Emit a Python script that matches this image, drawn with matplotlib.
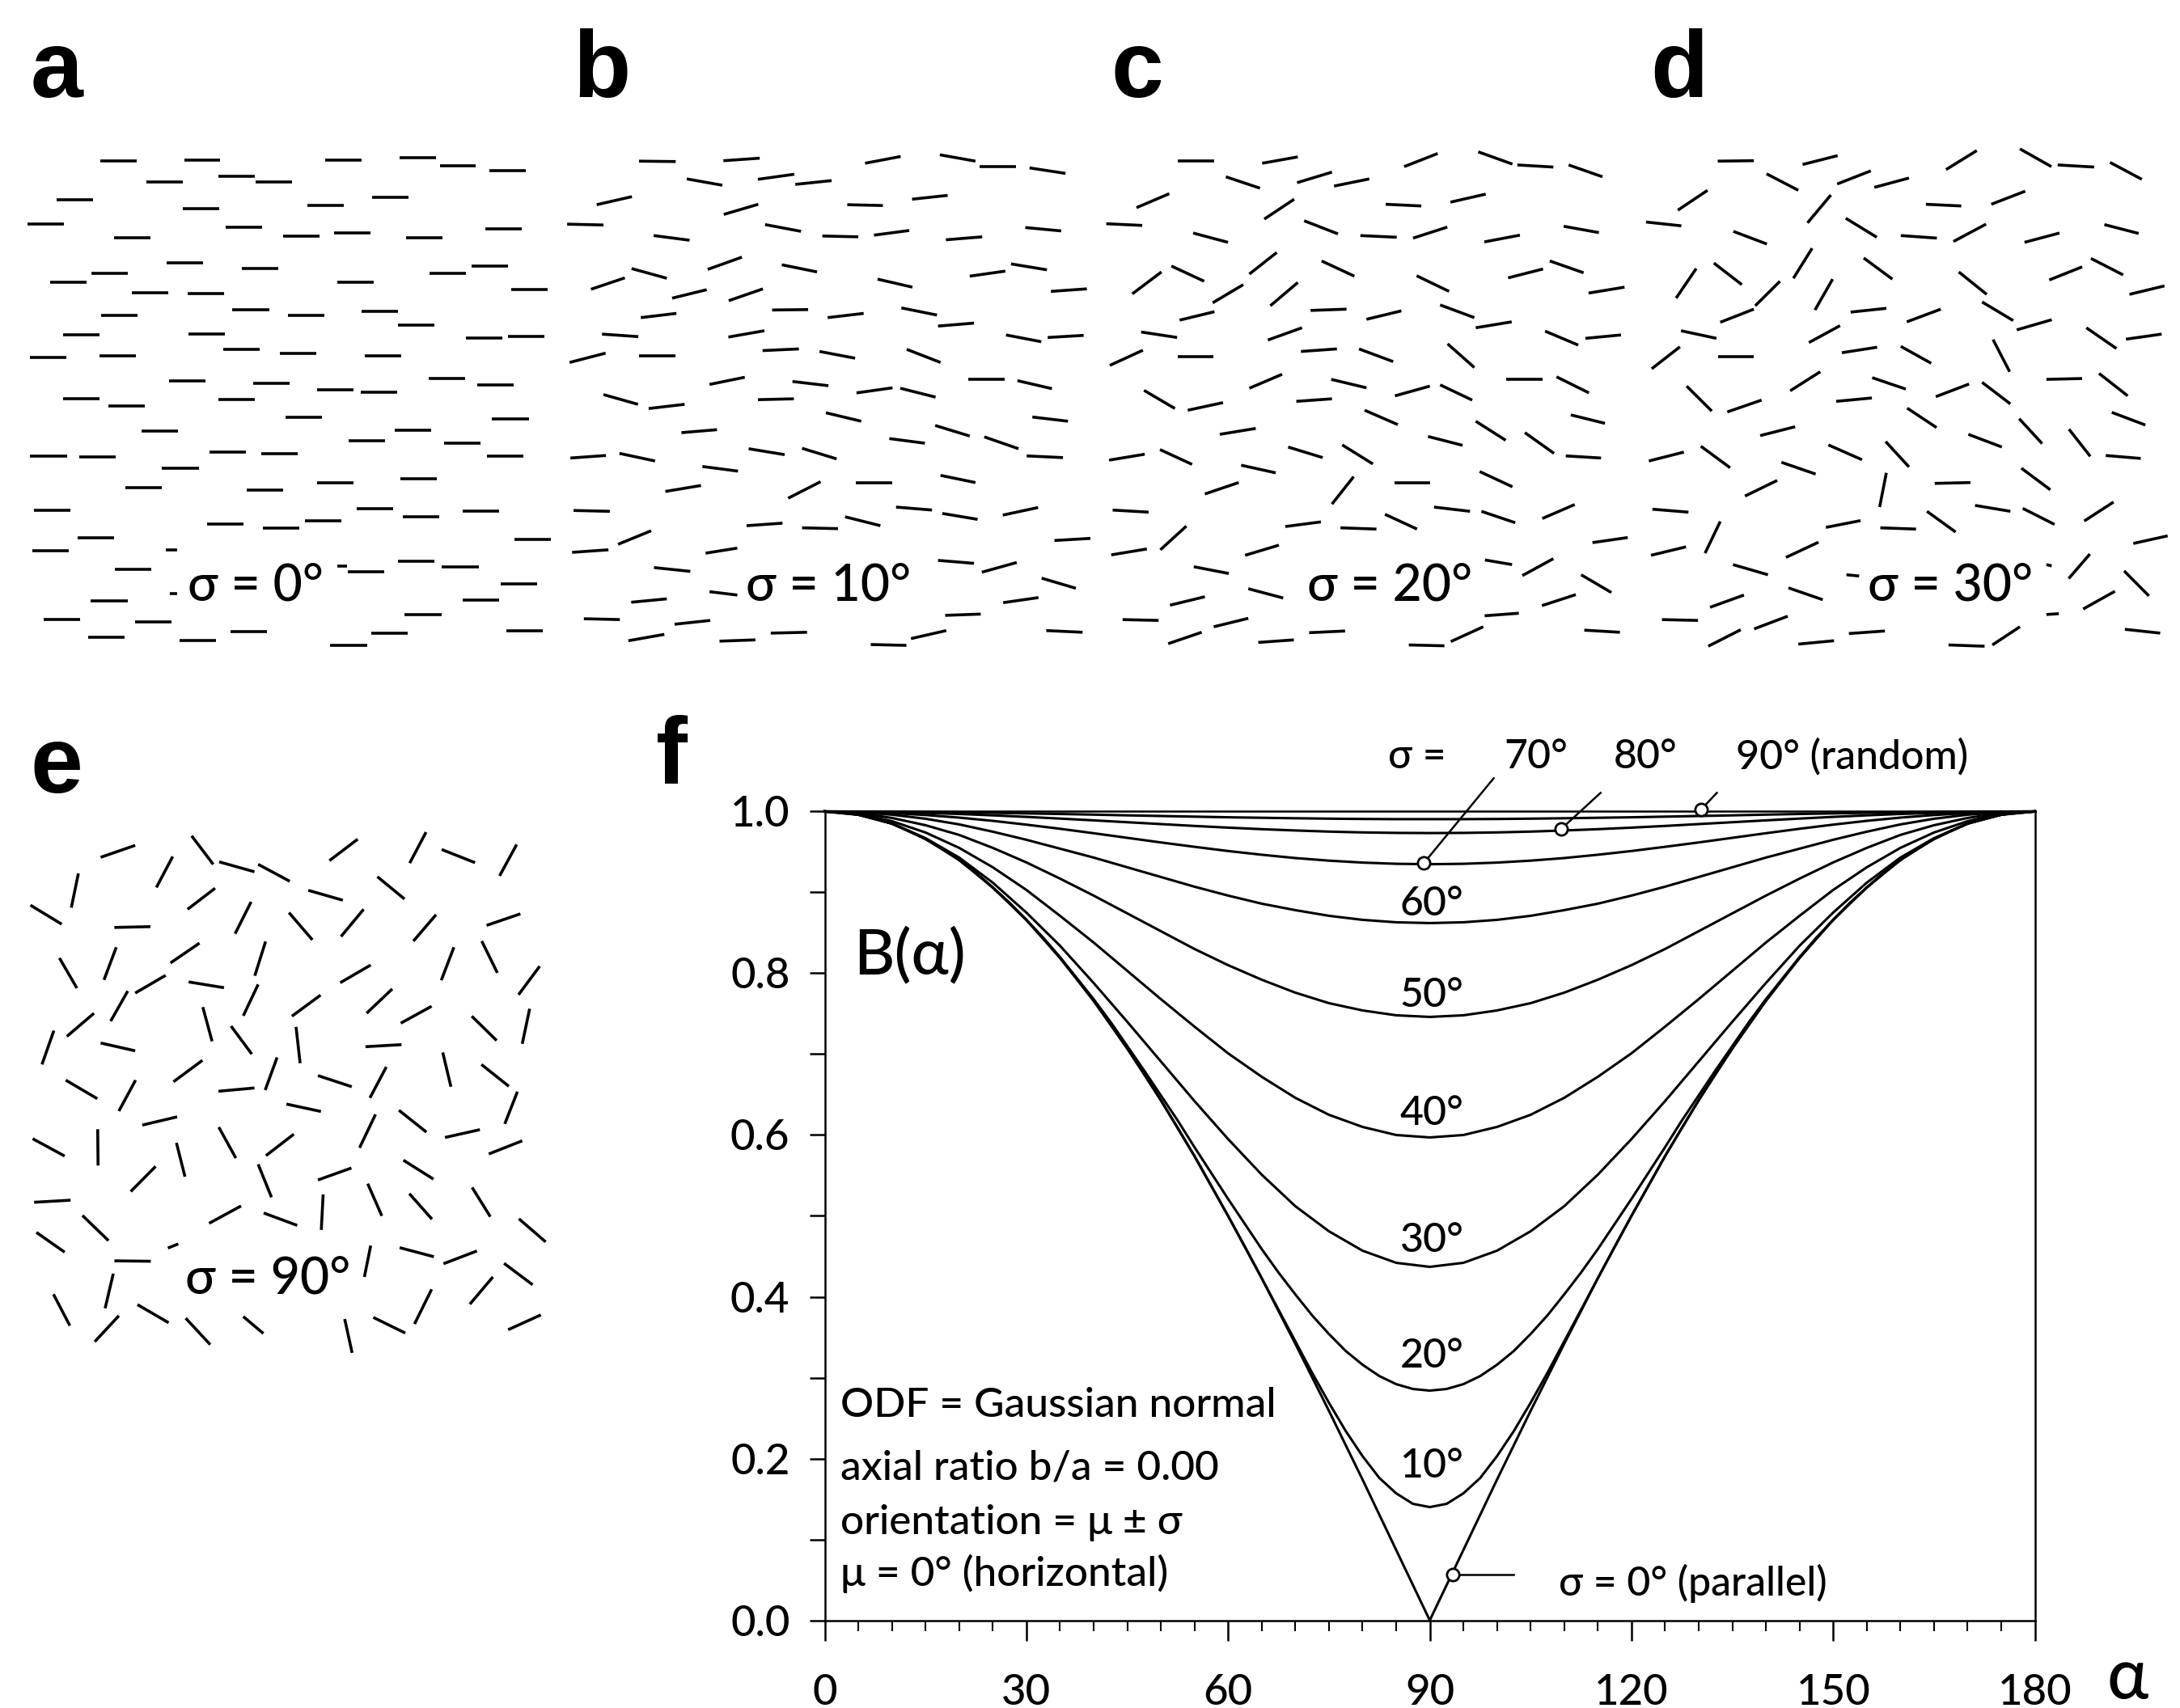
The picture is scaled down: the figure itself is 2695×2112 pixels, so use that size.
import numpy as np
import matplotlib
matplotlib.use("Agg")
import matplotlib.pyplot as plt
from matplotlib.collections import LineCollection
from matplotlib.ticker import MultipleLocator, FormatStrFormatter

FONT = ["Lato", "Open Sans", "DejaVu Sans"]
plt.rcParams["font.family"] = FONT
plt.rcParams["font.weight"] = 500

W, H = 2695, 2112

# ---- panels a-e: visible needle segments (x1, y1, x2, y2), panel units 0..1568
SEG_A = [
    (277, 381, 378, 381), (510, 378, 610, 378), (901, 378, 1002, 378), (1106, 373, 1208, 373),
    (1218, 392, 1318, 392), (1356, 403, 1457, 403), (406, 431, 507, 431), (605, 417, 706, 417),
    (708, 431, 809, 431), (157, 472, 258, 472), (507, 494, 608, 494), (851, 485, 952, 485),
    (1031, 466, 1132, 466), (76, 530, 177, 530), (316, 563, 417, 563), (624, 537, 725, 537),
    (783, 558, 884, 558), (925, 550, 1026, 550), (1125, 563, 1226, 563), (1344, 542, 1445, 542),
    (462, 622, 563, 622), (670, 635, 771, 635), (254, 647, 355, 647), (139, 668, 240, 668),
    (1189, 647, 1290, 647), (1305, 629, 1406, 629), (933, 668, 1034, 668), (365, 693, 466, 693),
    (520, 695, 621, 695), (1415, 685, 1516, 685), (280, 746, 381, 746), (644, 732, 745, 732),
    (797, 745, 898, 745), (1001, 736, 1102, 736), (1102, 768, 1204, 768), (174, 791, 275, 791),
    (522, 789, 623, 789), (1290, 799, 1391, 799), (1406, 795, 1507, 795), (83, 846, 184, 846),
    (275, 842, 376, 842), (618, 827, 719, 827), (775, 836, 876, 836), (1011, 841, 1112, 841),
    (469, 901, 570, 901), (701, 907, 802, 907), (1187, 895, 1288, 895), (1321, 910, 1422, 910),
    (877, 922, 978, 922), (998, 928, 1099, 928), (175, 942, 276, 942), (604, 944, 705, 944),
    (301, 960, 402, 960), (791, 987, 892, 987), (1363, 990, 1464, 990), (392, 1019, 493, 1019),
    (1093, 1018, 1194, 1018), (966, 1042, 1067, 1042), (1229, 1047, 1330, 1047),
    (84, 1079, 185, 1079), (220, 1081, 321, 1081), (580, 1068, 681, 1068), (724, 1073, 825, 1073),
    (1349, 1079, 1450, 1079), (449, 1108, 550, 1108), (347, 1154, 448, 1154),
    (683, 1159, 784, 1159), (877, 1142, 978, 1142), (1109, 1132, 1210, 1132),
    (94, 1207, 195, 1207), (987, 1202, 1088, 1202), (1115, 1221, 1216, 1221),
    (1282, 1208, 1383, 1208), (573, 1239, 674, 1239), (727, 1248, 828, 1248),
    (845, 1232, 946, 1232), (214, 1271, 315, 1271), (1425, 1275, 1526, 1275),
    (89, 1303, 190, 1303), (459, 1300, 490, 1300), (318, 1347, 419, 1347), (935, 1338, 960, 1338),
    (964, 1351, 1065, 1351), (1103, 1327, 1204, 1327), (1224, 1340, 1325, 1340),
    (1386, 1380, 1487, 1380), (252, 1420, 353, 1420), (470, 1404, 490, 1404),
    (1282, 1418, 1383, 1418), (121, 1464, 222, 1464), (373, 1471, 474, 1471),
    (1121, 1453, 1222, 1453), (245, 1506, 346, 1506), (498, 1515, 599, 1515),
    (639, 1493, 740, 1493), (1028, 1498, 1129, 1498), (915, 1525, 1016, 1525),
    (1403, 1491, 1503, 1491),
]

SEG_B = [
    (250, 381, 353, 382), (487, 380, 589, 374), (885, 386, 985, 370), (1095, 366, 1195, 381),
    (1207, 393, 1308, 393), (1347, 397, 1448, 410), (384, 423, 484, 438), (584, 424, 686, 412),
    (689, 436, 791, 427), (131, 484, 230, 465), (488, 507, 585, 483), (835, 484, 935, 486),
    (1017, 471, 1117, 462), (48, 530, 150, 532), (291, 557, 392, 568), (604, 531, 705, 547),
    (765, 558, 866, 560), (910, 556, 1009, 545), (1112, 567, 1214, 560), (1335, 538, 1436, 546),
    (443, 637, 539, 608), (651, 626, 750, 643), (229, 635, 328, 658), (115, 684, 210, 657),
    (343, 705, 440, 685), (502, 711, 598, 683), (920, 660, 1018, 679), (1179, 653, 1279, 641),
    (1295, 624, 1396, 638), (1407, 689, 1508, 683), (255, 751, 355, 741), (624, 733, 725, 732),
    (780, 751, 881, 741), (987, 728, 1087, 745), (1090, 771, 1191, 764), (146, 790, 248, 796),
    (501, 797, 602, 782), (1281, 792, 1380, 808), (1398, 798, 1499, 793), (55, 857, 156, 835),
    (250, 842, 352, 842), (597, 829, 699, 825), (757, 831, 857, 847), (1002, 826, 1097, 857),
    (448, 909, 547, 892), (681, 902, 782, 912), (1175, 896, 1276, 896), (1313, 900, 1410, 919),
    (861, 929, 962, 917), (984, 918, 1083, 939), (150, 933, 247, 956), (584, 945, 685, 943),
    (277, 966, 378, 956), (775, 976, 874, 996), (1355, 986, 1455, 996), (369, 1023, 469, 1016),
    (1082, 1006, 1179, 1031), (953, 1037, 1053, 1048), (1220, 1033, 1316, 1061),
    (57, 1083, 157, 1077), (195, 1072, 295, 1090), (558, 1061, 659, 1075), (708, 1060, 805, 1085),
    (1339, 1078, 1441, 1082), (428, 1103, 528, 1114), (324, 1162, 424, 1148),
    (669, 1178, 760, 1139), (860, 1142, 962, 1142), (1097, 1124, 1195, 1141),
    (66, 1207, 168, 1209), (972, 1199, 1073, 1206), (1102, 1214, 1201, 1228),
    (1272, 1218, 1371, 1200), (552, 1243, 653, 1237), (708, 1248, 809, 1250),
    (829, 1222, 928, 1243), (191, 1287, 284, 1255), (1417, 1278, 1518, 1273),
    (62, 1306, 164, 1300), (437, 1308, 526, 1296), (292, 1342, 394, 1351),
    (1090, 1325, 1191, 1332), (1213, 1353, 1311, 1330), (1381, 1367, 1477, 1391),
    (228, 1424, 328, 1416), (448, 1399, 526, 1407), (1273, 1425, 1372, 1413),
    (95, 1463, 196, 1465), (350, 1476, 450, 1467), (1110, 1455, 1210, 1452),
    (220, 1515, 321, 1500), (476, 1516, 577, 1513), (620, 1497, 722, 1495),
    (1014, 1510, 1113, 1491), (901, 1524, 1001, 1526), (1394, 1491, 1496, 1495),
]

SEG_C = [
    (242, 381, 343, 381), (478, 386, 578, 371), (877, 394, 971, 363), (1085, 359, 1181, 388),
    (1195, 390, 1296, 395), (1339, 390, 1434, 418), (376, 418, 472, 445), (576, 432, 674, 407),
    (680, 440, 779, 423), (125, 491, 217, 458), (484, 518, 568, 471), (825, 483, 925, 487),
    (1007, 478, 1106, 459), (40, 529, 141, 533), (284, 551, 382, 573), (596, 522, 691, 553),
    (754, 557, 856, 561), (902, 563, 998, 537), (1102, 572, 1202, 556), (1325, 535, 1424, 550),
    (442, 648, 519, 597), (645, 617, 737, 653), (223, 629, 315, 665), (113, 695, 195, 643),
    (339, 716, 425, 673), (501, 723, 578, 668), (912, 652, 1003, 689), (1169, 657, 1267, 636),
    (1286, 617, 1381, 645), (1395, 693, 1496, 679), (246, 757, 344, 737), (614, 734, 715, 731),
    (771, 755, 869, 735), (978, 721, 1074, 751), (1078, 775, 1179, 761), (138, 785, 239, 798),
    (494, 804, 590, 775), (1273, 783, 1366, 816), (1386, 800, 1486, 792), (50, 864, 143, 828),
    (240, 843, 342, 843), (587, 831, 688, 825), (750, 825, 846, 855), (999, 813, 1074, 869),
    (442, 918, 534, 885), (672, 897, 771, 917), (1164, 896, 1265, 896), (1305, 891, 1396, 929),
    (851, 936, 949, 913), (978, 910, 1068, 946), (146, 923, 233, 966), (574, 949, 674, 943),
    (269, 970, 368, 952), (766, 970, 859, 1004), (1345, 981, 1441, 1001), (359, 1027, 460, 1013),
    (1078, 996, 1162, 1041), (944, 1032, 1041, 1053), (1216, 1023, 1298, 1072),
    (48, 1088, 148, 1074), (191, 1063, 281, 1098), (551, 1057, 648, 1082), (703, 1052, 789, 1097),
    (1331, 1078, 1430, 1083), (419, 1100, 516, 1118), (317, 1168, 412, 1141),
    (674, 1192, 735, 1127), (850, 1142, 951, 1142), (1089, 1115, 1181, 1151),
    (58, 1206, 159, 1211), (961, 1199, 1062, 1209), (1094, 1209, 1189, 1236),
    (1265, 1226, 1356, 1193), (543, 1245, 643, 1234), (698, 1248, 799, 1251),
    (823, 1216, 913, 1251), (192, 1300, 265, 1244), (1406, 1283, 1505, 1271),
    (54, 1312, 154, 1298), (430, 1313, 525, 1289), (286, 1340, 384, 1356),
    (1104, 1324, 1180, 1335), (1209, 1361, 1296, 1321), (1374, 1359, 1459, 1401),
    (219, 1431, 317, 1411), (439, 1392, 537, 1414), (1264, 1432, 1359, 1406),
    (86, 1465, 187, 1467), (342, 1482, 439, 1462), (1103, 1456, 1199, 1450),
    (214, 1522, 308, 1495), (467, 1519, 567, 1513), (610, 1496, 711, 1492),
    (1008, 1517, 1099, 1482), (890, 1525, 990, 1527), (1383, 1490, 1483, 1495),
]

SEG_D = [
    (260, 381, 362, 380), (500, 389, 599, 368), (906, 401, 993, 356), (1115, 352, 1204, 394),
    (1222, 390, 1325, 395), (1370, 384, 1460, 424), (398, 411, 488, 450), (598, 435, 693, 404),
    (703, 443, 801, 421), (147, 497, 231, 450), (514, 527, 580, 461), (849, 483, 949, 487),
    (1034, 483, 1130, 452), (57, 525, 157, 534), (304, 547, 399, 577), (622, 516, 710, 561),
    (778, 557, 880, 563), (927, 571, 1019, 530), (1128, 573, 1227, 551), (1354, 531, 1451, 552),
    (474, 658, 527, 587), (673, 610, 754, 660), (249, 622, 328, 673), (142, 705, 199, 635),
    (366, 723, 436, 665), (535, 733, 585, 660), (942, 643, 1021, 696), (1198, 662, 1291, 631),
    (1316, 611, 1407, 650), (1425, 696, 1524, 676), (267, 762, 362, 731), (636, 738, 737, 729),
    (795, 761, 891, 731), (1008, 714, 1096, 758), (1106, 780, 1205, 756), (156, 782, 256, 800),
    (518, 810, 606, 770), (1303, 775, 1388, 824), (1415, 802, 1516, 790), (73, 872, 153, 820),
    (260, 843, 362, 843), (611, 834, 711, 821), (778, 819, 864, 859), (1039, 803, 1086, 879),
    (465, 924, 550, 879), (697, 893, 792, 920), (1190, 897, 1291, 895), (1339, 883, 1420, 936),
    (877, 938, 971, 908), (1008, 904, 1088, 955), (172, 913, 243, 972), (595, 949, 696, 941),
    (287, 974, 384, 946), (796, 965, 879, 1011), (1375, 975, 1470, 1005), (380, 1030, 479, 1009),
    (1113, 990, 1178, 1049), (969, 1027, 1064, 1057), (1254, 1015, 1314, 1079),
    (65, 1090, 164, 1069), (212, 1055, 295, 1106), (573, 1052, 668, 1087), (735, 1044, 801, 1104),
    (1358, 1077, 1457, 1084), (440, 1093, 537, 1121), (337, 1173, 428, 1136),
    (718, 1199, 737, 1118), (874, 1143, 975, 1141), (1119, 1107, 1201, 1158),
    (75, 1204, 177, 1211), (988, 1195, 1088, 1209), (1123, 1202, 1213, 1240),
    (1297, 1232, 1380, 1187), (566, 1247, 664, 1231), (720, 1248, 821, 1251),
    (852, 1209, 933, 1258), (224, 1308, 267, 1233), (1436, 1285, 1533, 1267),
    (71, 1313, 170, 1293), (453, 1318, 545, 1282), (303, 1335, 402, 1359),
    (624, 1359, 660, 1362), (1190, 1335, 1205, 1338), (1253, 1368, 1313, 1310),
    (1410, 1350, 1480, 1409), (238, 1436, 334, 1407), (460, 1390, 557, 1418),
    (1294, 1440, 1384, 1398), (102, 1465, 204, 1467), (363, 1487, 458, 1457),
    (1190, 1453, 1225, 1451), (233, 1528, 325, 1489), (488, 1523, 589, 1515),
    (631, 1498, 733, 1492), (1037, 1525, 1115, 1482), (913, 1525, 1015, 1528),
    (1412, 1488, 1512, 1497),
]

SEG_E = [
    (271, 353, 364, 324), (516, 301, 574, 370), (590, 364, 685, 388), (695, 370, 780, 411),
    (887, 361, 963, 309), (1103, 367, 1147, 292), (1189, 334, 1279, 366), (1345, 398, 1391, 322),
    (192, 475, 211, 392), (421, 426, 465, 351), (830, 433, 923, 457), (1016, 400, 1089, 454),
    (82, 469, 166, 515), (505, 479, 579, 428), (308, 523, 405, 521), (633, 538, 676, 461),
    (778, 487, 841, 553), (918, 545, 979, 479), (1113, 556, 1174, 492), (1310, 518, 1401, 490),
    (160, 597, 207, 670), (280, 650, 313, 571), (459, 609, 537, 561), (686, 640, 715, 557),
    (364, 682, 446, 639), (508, 655, 603, 669), (916, 657, 998, 614), (1188, 651, 1222, 571),
    (1297, 556, 1339, 633), (1396, 686, 1453, 617), (298, 750, 344, 677), (655, 737, 695, 661),
    (786, 738, 863, 687), (987, 731, 1056, 672), (1079, 755, 1162, 714), (1270, 738, 1337, 797),
    (1406, 805, 1426, 720), (180, 787, 253, 731), (113, 855, 145, 773), (546, 716, 571, 799),
    (622, 762, 678, 830), (797, 764, 808, 852), (271, 803, 364, 822), (984, 812, 1081, 807),
    (1192, 826, 1214, 909), (1296, 855, 1370, 908), (177, 893, 262, 938), (467, 897, 545, 845),
    (714, 917, 746, 838), (856, 882, 947, 909), (320, 968, 365, 893), (588, 920, 685, 912),
    (996, 936, 1040, 861), (771, 951, 864, 969), (1359, 999, 1393, 921), (383, 1002, 477, 982),
    (1074, 966, 1148, 1019), (1198, 1032, 1292, 1013), (88, 1035, 174, 1077),
    (263, 1012, 264, 1100), (475, 1045, 498, 1127), (589, 1007, 635, 1082), (716, 1076, 791, 1024),
    (968, 1057, 1011, 976), (1316, 1072, 1406, 1040), (352, 1163, 419, 1102),
    (695, 1097, 731, 1177), (856, 1135, 946, 1106), (1086, 1087, 1167, 1133),
    (92, 1189, 190, 1184), (870, 1170, 865, 1256), (990, 1144, 1028, 1222),
    (1102, 1168, 1163, 1230), (1271, 1153, 1320, 1224), (1397, 1229, 1469, 1285),
    (222, 1221, 292, 1282), (563, 1240, 649, 1198), (710, 1215, 800, 1245),
    (98, 1262, 174, 1310), (452, 1300, 480, 1290), (308, 1331, 406, 1332),
    (1076, 1299, 1168, 1321), (1194, 1338, 1284, 1307), (998, 1294, 981, 1370),
    (1357, 1337, 1434, 1389), (283, 1446, 305, 1362), (144, 1412, 188, 1488),
    (370, 1437, 454, 1481), (500, 1470, 566, 1534), (255, 1527, 320, 1464),
    (655, 1466, 709, 1507), (928, 1472, 948, 1554), (1005, 1468, 1091, 1506),
    (1116, 1484, 1162, 1400), (1265, 1436, 1327, 1370), (1368, 1498, 1456, 1462),
]

# (letter, crop box in px [x, y, w, h], segments, sigma label, label centre, letter pos px)
PANELS = [
    ("a", (0, 0, 700, 820), SEG_A, "σ = 0°", (707, 1385), (38, 120)),
    ("b", (680, 0, 690, 820), SEG_B, "σ = 10°", (782, 1385), (708, 120)),
    ("c", (1350, 0, 690, 820), SEG_C, "σ = 20°", (837, 1385), (1374, 120)),
    ("d", (2010, 0, 685, 820), SEG_D, "σ = 30°", (917, 1385), (2040, 120)),
    ("e", (0, 880, 720, 800), SEG_E, "σ = 90°", (722, 1375), (38, 980)),
]

# ---- panel f: B(alpha), left half (the curves are symmetric about 90)
ALPHA = np.arange(0, 91, 5)
ALPHA_FINE = np.arange(0, 90.1, 2.5)

B_S0 = [1.000, 0.996, 0.985, 0.966, 0.940, 0.906, 0.866, 0.819, 0.766, 0.707,
        0.643, 0.574, 0.500, 0.423, 0.342, 0.259, 0.174, 0.087, 0.000]
B_S10 = [1.000, 0.999, 0.996, 0.991, 0.985, 0.976, 0.966, 0.954, 0.940, 0.924,
         0.906, 0.887, 0.866, 0.843, 0.819, 0.793, 0.766, 0.737, 0.707, 0.676,
         0.643, 0.609, 0.574, 0.537, 0.500, 0.462, 0.423, 0.384, 0.345, 0.306,
         0.269, 0.234, 0.203, 0.176, 0.157, 0.144, 0.140]
B_S20 = [1.000, 0.999, 0.996, 0.991, 0.985, 0.976, 0.966, 0.954, 0.940, 0.924,
         0.906, 0.887, 0.866, 0.844, 0.820, 0.794, 0.768, 0.740, 0.710, 0.680,
         0.649, 0.618, 0.585, 0.553, 0.521, 0.490, 0.459, 0.430, 0.403, 0.377,
         0.354, 0.333, 0.316, 0.302, 0.292, 0.286, 0.284]
B_S30 = [1.000, 0.996, 0.985, 0.967, 0.943, 0.912, 0.875, 0.834, 0.788, 0.740,
         0.691, 0.642, 0.595, 0.551, 0.512, 0.481, 0.457, 0.442, 0.437]
B_S40 = [1.000, 0.997, 0.988, 0.974, 0.955, 0.931, 0.903, 0.871, 0.838, 0.803,
         0.768, 0.734, 0.701, 0.672, 0.646, 0.625, 0.610, 0.600, 0.597]
B_S50 = [1.000, 0.998, 0.992, 0.983, 0.971, 0.955, 0.937, 0.917, 0.896, 0.874,
         0.852, 0.830, 0.810, 0.792, 0.776, 0.763, 0.754, 0.748, 0.746]
B_S60 = [1.000, 0.999, 0.996, 0.991, 0.984, 0.975, 0.965, 0.954, 0.943, 0.931,
         0.919, 0.907, 0.896, 0.886, 0.878, 0.871, 0.866, 0.863, 0.862]
B_S70 = [1.000, 0.9995, 0.998, 0.9956, 0.9924, 0.9884, 0.9837, 0.9786, 0.9731, 0.9674,
         0.9617, 0.9563, 0.9511, 0.9465, 0.9424, 0.9392, 0.9368, 0.9353, 0.9348]
B_S80 = [1.000, 0.9998, 0.9992, 0.9982, 0.9969, 0.9952, 0.9933, 0.9912, 0.9890, 0.9867,
         0.9844, 0.9821, 0.9800, 0.9781, 0.9765, 0.9751, 0.9741, 0.9735, 0.9733]
B_S90 = [1.000, 0.9999, 0.9997, 0.9994, 0.9989, 0.9983, 0.9976, 0.9969, 0.9961, 0.9952,
         0.9944, 0.9936, 0.9928, 0.9922, 0.9916, 0.9911, 0.9907, 0.9905, 0.9905]

CURVES = [(ALPHA, B_S0), (ALPHA_FINE, B_S10), (ALPHA_FINE, B_S20), (ALPHA, B_S30),
          (ALPHA, B_S40), (ALPHA, B_S50), (ALPHA, B_S60), (ALPHA, B_S70),
          (ALPHA, B_S80), (ALPHA, B_S90)]

CURVE_LABELS = ["60°", "50°", "40°", "30°", "20°", "10°"]
CURVE_LABEL_Y = [0.871, 0.758, 0.612, 0.456, 0.3125, 0.177]

# leader markers: (circle alpha, circle B, line end alpha, line end B)
LEADERS = [(89.1, 0.936, 99.5, 1.041), (109.5, 0.978, 115.4, 1.023),
           (130.3, 1.002, 132.7, 1.023), (93.4, 0.057, 102.4, 0.057)]

NOTE_LINES = ["ODF = Gaussian normal", "axial ratio b/a = 0.00",
              "orientation = μ ± σ", "μ = 0° (horizontal)"]
NOTE_Y = [0.2516, 0.1739, 0.1063, 0.0421]


def fig_rect(x, y, w, h):
    return [x / W, 1 - (y + h) / H, w / W, h / H]


fig = plt.figure(figsize=(W / 100, H / 100), dpi=100)
fig.patch.set_facecolor("white")

for letter, crop, segs, label, lpos, ppos in PANELS:
    ax = fig.add_axes(fig_rect(*crop))
    ax.set_xlim(0, 1568)
    ax.set_ylim(1568, 0)
    ax.axis("off")
    ax.patch.set_alpha(0)
    lines = [((s[0], s[1]), (s[2], s[3])) for s in segs]
    ax.add_collection(LineCollection(lines, colors="black", linewidths=2.6,
                                     capstyle="butt"))
    ax.text(lpos[0], lpos[1], label, ha="center", va="center", fontsize=45,
            family=FONT)
    fig.text(ppos[0] / W, 1 - ppos[1] / H, letter, ha="left", va="baseline",
             fontsize=84, fontweight="bold", family=["Liberation Sans", "DejaVu Sans"])

fig.text(811 / W, 1 - 968 / H, "f", ha="left", va="baseline", fontsize=84,
         fontweight="bold", family=["Liberation Sans", "DejaVu Sans"])

# ---- panel f
ax = fig.add_axes(fig_rect(1019.5, 1003.4, 1496.1, 1000.2))
ax.set_xlim(0, 180)
ax.set_ylim(0, 1.0)

for a, b in CURVES:
    a = np.asarray(a, dtype=float)
    b = np.asarray(b, dtype=float)
    xs = np.concatenate([a, 180 - a[::-1][1:]])
    ys = np.concatenate([b, b[::-1][1:]])
    ax.plot(xs, ys, color="black", lw=2.2, clip_on=False, solid_joinstyle="round")

for lab, y in zip(CURVE_LABELS, CURVE_LABEL_Y):
    ax.text(90.3, y, lab, ha="center", va="baseline", fontsize=36)

for cx, cy, ex, ey in LEADERS:
    ax.plot([cx, ex], [cy, ey], color="black", lw=1.8, clip_on=False)
    ax.plot([cx], [cy], marker="o", ms=11, mfc="white", mec="black", mew=2.0,
            clip_on=False, zorder=5)

ax.text(83.8, 1.053, "σ =", ha="left", va="baseline", fontsize=36)
ax.text(101.0, 1.053, "70°", ha="left", va="baseline", fontsize=36)
ax.text(117.3, 1.053, "80°", ha="left", va="baseline", fontsize=36)
ax.text(135.5, 1.053, "90° (random)", ha="left", va="baseline", fontsize=36)
ax.text(109.2, 0.031, "σ = 0° (parallel)", ha="left", va="baseline", fontsize=36)

for line, y in zip(NOTE_LINES, NOTE_Y):
    ax.text(2.3, y, line, ha="left", va="baseline", fontsize=37)

ax.text(4.3, 0.821, "B(α)", ha="left", va="center", fontsize=56)
ax.text(193.8, -0.072, "α", ha="center", va="center", fontsize=62, clip_on=False)

ax.xaxis.set_major_locator(MultipleLocator(30))
ax.xaxis.set_minor_locator(MultipleLocator(5))
ax.yaxis.set_major_locator(MultipleLocator(0.2))
ax.yaxis.set_minor_locator(MultipleLocator(0.1))
ax.yaxis.set_major_formatter(FormatStrFormatter("%.1f"))
ax.tick_params(axis="x", which="major", length=18, width=1.8, pad=30, labelsize=38)
ax.tick_params(axis="x", which="minor", length=9.5, width=1.5)
ax.tick_params(axis="y", which="both", length=14, width=1.8, pad=17, labelsize=38)
for sp in ax.spines.values():
    sp.set_linewidth(1.8)

fig.savefig("out.png", dpi=100, facecolor="white")
